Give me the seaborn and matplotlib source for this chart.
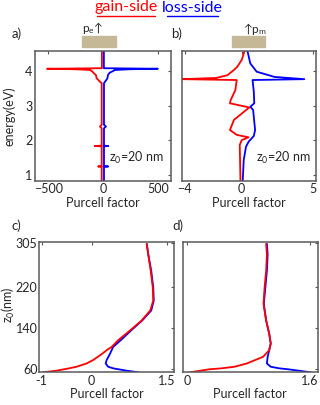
import matplotlib
matplotlib.use("Agg")
import matplotlib.pyplot as plt
import seaborn as sns
from matplotlib.patches import Rectangle
from matplotlib.lines import Line2D

# panel a: energy (eV) vs Purcell factor, electric dipole
energy_a = [4.58, 4.08, 4.065, 4.05, 4.03, 3.98, 3.95, 3.88, 3.79, 3.74, 3.69, 3.65,
            2.45, 2.40, 2.35, 1.85, 1.84, 1.83, 1.26, 1.25, 1.24, 0.84]
gain_a = [-10, -10, -510, -250, -118, -95, -88, -64, -58, -42, -27, -12,
          -12, -28, -12, -12, -75, -12, -12, -45, -12, -12]
loss_a = [8, 8, 500, 240, 110, 80, 60, 45, 40, 30, 18, 9,
          9, 27, 9, 9, 48, 9, 9, 48, 9, 9]

# panel b: magnetic dipole
energy_b_gain = [4.58, 4.32, 4.12, 4.03, 3.88, 3.80, 3.765, 3.74, 3.45, 3.16, 3.07,
                 2.95, 2.59, 2.30, 2.16, 2.09, 2.01, 1.87, 0.84]
gain_b = [0.2, 0.0, -0.32, -0.55, -1.0, -1.8, -4.2, -0.35, -0.45, -0.78, -0.83,
          0.53, -0.55, -0.83, -0.35, 0.48, 0.0, -0.14, -0.09]
energy_b_loss = [4.58, 4.22, 3.98, 3.83, 3.765, 3.74, 3.40, 3.07, 2.97, 2.88,
                 2.30, 2.13, 1.96, 1.82, 1.44, 0.84]
loss_b = [0.4, 0.6, 1.05, 2.3, 4.4, 0.76, 0.85, 0.88, 0.6, 0.8,
          0.94, 0.85, 0.48, 0.3, 0.14, 0.07]

# panel c: z0 (nm) vs Purcell factor at fixed energy
z_c = [303, 282.7, 250.6, 218.5, 192.9, 173.7, 154.4, 135.2, 116, 103, 96.7, 90.4,
       77.5, 71, 64.6, 61.5, 56.9, 53.8]
gain_c = [1.10, 1.13, 1.18, 1.22, 1.23, 1.17, 1.00, 0.77, 0.53, 0.40, 0.30, 0.22,
          0.03, -0.10, -0.30, -0.45, -0.70, -0.97]
loss_c = [1.10, 1.13, 1.19, 1.23, 1.24, 1.19, 1.01, 0.79, 0.58, 0.43, 0.40, 0.37,
          0.30, 0.28, 0.33, 0.43, 0.70, 0.93]

# panel d
z_d = [303, 282.7, 250.6, 218.5, 186.5, 154.4, 128.8, 109.6, 96.7, 83.8, 71,
       64.6, 61.5, 59.6, 53.8]
gain_d = [1.03, 1.04, 1.03, 1.01, 0.996, 1.03, 1.07, 1.09, 1.07, 0.99, 0.78,
          0.62, 0.45, 0.29, 0.04]
loss_d = [1.04, 1.05, 1.04, 1.02, 1.0, 1.03, 1.07, 1.09, 1.07, 1.05, 1.04,
          1.09, 1.20, 1.32, 1.61]

RED = "#ff0000"
BLUE = "#0000ff"
TAN = "#c4b896"
FS = 9

sns.set_style("white")
plt.rcParams["font.family"] = ["Lato", "DejaVu Sans"]
plt.rcParams["mathtext.default"] = "regular"

fig = plt.figure(figsize=(3.2, 4.05), dpi=100)
W, H = 320.0, 405.0


def add_ax(x0, x1, ytop, ybot):
    return fig.add_axes([x0 / W, 1 - ybot / H, (x1 - x0) / W, (ybot - ytop) / H])


ax_a = add_ax(35, 171, 50.7, 180.7)
ax_b = add_ax(182, 315.7, 50.7, 180.7)
ax_c = add_ax(39, 174.3, 242.3, 372.3)
ax_d = add_ax(183, 317.7, 242.3, 372.3)

kw = dict(orient="y", sort=False, estimator=None, linewidth=1.3)
sns.lineplot(x=loss_a, y=energy_a, color=BLUE, ax=ax_a, **kw)
sns.lineplot(x=gain_a, y=energy_a, color=RED, ax=ax_a, **kw)
sns.lineplot(x=loss_b, y=energy_b_loss, color=BLUE, ax=ax_b, **kw)
sns.lineplot(x=gain_b, y=energy_b_gain, color=RED, ax=ax_b, **kw)
sns.lineplot(x=loss_c, y=z_c, color=BLUE, ax=ax_c, **kw)
sns.lineplot(x=gain_c, y=z_c, color=RED, ax=ax_c, **kw)
sns.lineplot(x=loss_d, y=z_d, color=BLUE, ax=ax_d, **kw)
sns.lineplot(x=gain_d, y=z_d, color=RED, ax=ax_d, **kw)

ax_a.set_xlim(-620, 620)
ax_a.set_xticks([-500, 0, 500])
ax_b.set_xlim(-4.2, 5.2)
ax_b.set_xticks([-4, 0, 5])
for ax in (ax_a, ax_b):
    ax.set_ylim(0.84, 4.585)
    ax.set_yticks([1, 2, 3, 4])
ax_b.set_yticklabels([])

ax_c.set_xlim(-1.05, 1.65)
ax_c.set_xticks([-1, 0, 1.5])
ax_c.set_xticklabels(["-1", "0", "1.5"])
ax_d.set_xlim(-0.05, 1.7)
ax_d.set_xticks([0, 1.6])
ax_d.set_xticklabels(["0", "1.6"])
for ax in (ax_c, ax_d):
    ax.set_ylim(53.8, 306)
    ax.set_yticks([60, 140, 220, 305])
ax_d.set_yticklabels([])

for ax in (ax_a, ax_b, ax_c, ax_d):
    ax.tick_params(direction="in", length=2.5, width=0.8, color="#555555",
                   labelsize=FS, pad=2, top=True, right=True)
    for s in ax.spines.values():
        s.set_color("#5a5a5a")
        s.set_linewidth(1.1)
    ax.set_xlabel("Purcell factor", fontsize=FS, labelpad=1)
    ax.set_ylabel("")
ax_c.tick_params(axis="y", pad=1)

fig.text(9 / W, 1 - 116 / H, "energy(eV)", fontsize=FS, rotation=90,
         va="center", ha="center")
fig.text(8 / W, 1 - 305 / H, "$z_0$(nm)", fontsize=FS, rotation=90,
         va="center", ha="center")

fig.text(109 / W, 1 - 158 / H, "$z_0$=20 nm", fontsize=FS, va="center", ha="left")
fig.text(256 / W, 1 - 158 / H, "$z_0$=20 nm", fontsize=FS, va="center", ha="left")

# panel letters
for lbl, x, y in (("a)", 12, 34), ("b)", 171, 34), ("c)", 12, 226), ("d)", 172, 226)):
    fig.text(x / W, 1 - y / H, lbl, fontsize=9.5, va="center", ha="left")

# slab + dipole markers
for x0, x1 in ((82, 116), (232, 265)):
    fig.patches.append(Rectangle((x0 / W, 1 - 46.7 / H), (x1 - x0) / W, 10.7 / H,
                                 transform=fig.transFigure, color=TAN, zorder=3))
fig.text(93 / W, 1 - 28 / H, "$p_e$\u2191", fontsize=8.5, va="center", ha="center")
fig.text(255 / W, 1 - 29 / H, "\u2191$p_m$", fontsize=8.5, va="center", ha="center")

# legend: coloured text with underline
fig.text(126 / W, 1 - 7.5 / H, "gain-side", color=RED, fontsize=11.5, va="center", ha="center")
fig.text(192.5 / W, 1 - 7.5 / H, "loss-side", color=BLUE, fontsize=11.5, va="center", ha="center")
fig.lines.append(Line2D([97 / W, 155 / W], [1 - 15.7 / H] * 2, color=RED, lw=1.0,
                        transform=fig.transFigure))
fig.lines.append(Line2D([167 / W, 218 / W], [1 - 15.7 / H] * 2, color=BLUE, lw=1.0,
                        transform=fig.transFigure))

fig.savefig("out.png", dpi=100)
